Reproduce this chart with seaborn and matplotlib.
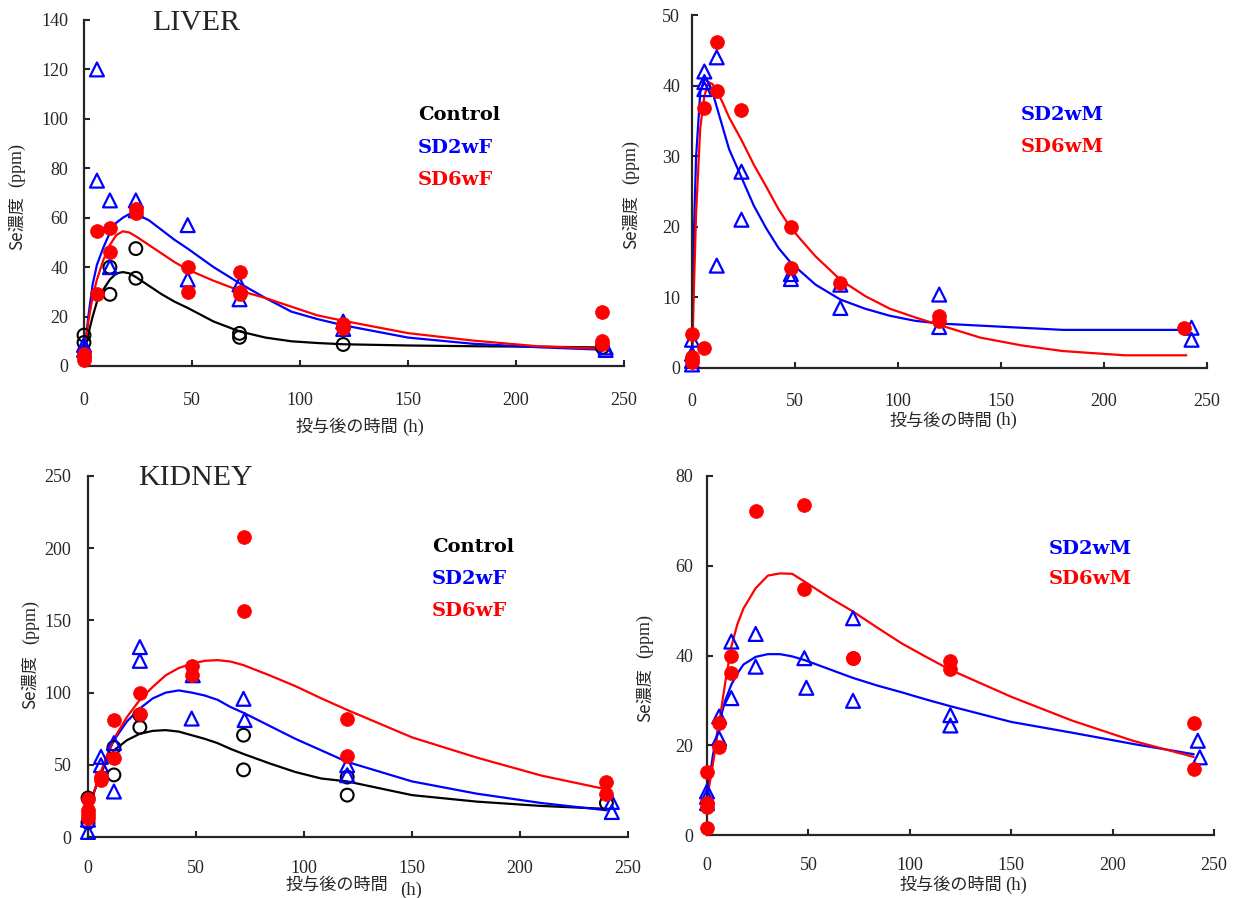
import matplotlib
matplotlib.use("Agg")
import matplotlib.pyplot as plt
import seaborn as sns

# ---------------- data ----------------
# LIVER, female
LF_ctrl_t = [0, 0, 12, 12, 24, 24, 72, 72, 120, 240]
LF_ctrl_y = [12.5, 9.5, 40, 29, 47.5, 35.5, 13.2, 11.6, 8.7, 7.5]
LF_sd2_t = [0, 0, 6, 6, 12, 12, 24, 24, 48, 48, 72, 72, 120, 120, 241.5, 241.5]
LF_sd2_y = [8.5, 6.5, 120, 75, 67, 40, 67, 63, 57, 35, 33, 27, 18, 15, 7.5, 6.5]
LF_sd6_t = [0, 0, 0, 6, 6, 12, 12, 24, 24, 48, 48, 72, 72, 72, 120, 120, 240, 240, 240]
LF_sd6_y = [5, 3.5, 2.5, 54.5, 29, 56, 46, 63.5, 62, 40, 30, 38, 30, 29, 17, 15.5, 22, 10, 9]

LF_fit_t = [0, 2, 4, 6, 9, 12, 15, 18, 21, 24, 30, 36, 42, 48, 60, 72, 84, 96, 108, 120, 150, 180, 210, 240]
LF_fit_ctrl = [5, 13, 20, 26, 31, 35, 37.5, 38, 37.5, 36, 32.5, 29, 26, 23.5, 18, 14, 11.5, 10, 9.3, 8.8, 8.3, 8, 7.8, 7.5]
LF_fit_sd2 = [4, 20, 33, 41, 48, 54, 58, 60, 61.5, 61.5, 59, 55, 51, 47.5, 40, 33.5, 27.5, 22, 19, 16.5, 11.5, 9, 7.6, 6.6]
LF_fit_sd6 = [4, 18, 28, 35, 43, 49, 53, 54.5, 54, 52.5, 49, 45.5, 42, 39, 34.5, 30.5, 27.5, 24, 20.5, 18.3, 13.3, 10.3, 8, 7]

# LIVER, male
LM_sd2_t = [0, 0, 0, 0, 6, 6, 6, 12, 12, 24, 24, 48, 48, 72, 72, 120, 120, 242.5, 242.5]
LM_sd2_y = [4, 2, 1, 0.5, 42, 40.5, 39.5, 44, 14.5, 27.8, 21, 13.3, 12.6, 11.8, 8.5, 10.4, 5.8, 5.7, 4]
LM_sd6_t = [0, 0, 0, 0, 6, 6, 12, 12, 24, 48, 48, 72, 120, 120, 239]
LM_sd6_y = [4.8, 1.5, 1.2, 0.8, 36.8, 2.8, 46.2, 39.3, 36.6, 20, 14.2, 12, 7.4, 6.6, 5.6]

LM_fit_t = [0, 1, 2, 4, 6, 8, 10, 12, 15, 18, 24, 30, 36, 42, 48, 60, 72, 84, 96, 108, 120, 140, 160, 180, 210, 240]
LM_fit_sd2 = [0.5, 20, 30, 39, 41, 40.5, 39, 37, 34, 31, 27, 23, 19.8, 17, 14.9, 11.8, 9.7, 8.4, 7.4, 6.7, 6.3, 6.0, 5.7, 5.4, 5.4, 5.4]
LM_fit_sd6 = [0.5, 12, 22, 34, 38.5, 40.5, 40.2, 39.3, 37.5, 35.5, 32.3, 28.8, 25.7, 22.5, 19.8, 15.8, 12.5, 10.2, 8.4, 7.2, 6.1, 4.3, 3.2, 2.4, 1.8, 1.8]

# KIDNEY, female
KF_ctrl_t = [0, 0, 12, 12, 24, 24, 72, 72, 120, 120, 240]
KF_ctrl_y = [27, 10, 62, 43, 84.5, 76, 70.5, 46.5, 41.5, 29, 23.5]
KF_sd2_t = [0, 0, 6, 6, 12, 12, 24, 24, 48.5, 48, 72, 72.5, 120, 120, 242.5, 242.5]
KF_sd2_y = [12, 3.5, 55.5, 49.7, 65, 31.5, 131.5, 122, 112, 82, 95.7, 81, 49.7, 42.8, 24.3, 17.3]
KF_sd6_t = [0, 0, 0, 0, 6, 6, 12, 12, 24, 24, 48, 48, 72, 72, 120, 120, 240, 240]
KF_sd6_y = [26, 18.5, 16, 13, 41.6, 39.3, 81.3, 55, 100, 85, 118.3, 112.5, 208, 156.5, 82, 56, 38, 30]

KF_fit_t = [0, 3, 6, 9, 12, 18, 24, 30, 36, 42, 48, 54, 60, 66, 72, 84, 96, 108, 120, 150, 180, 210, 240]
KF_fit_ctrl = [18, 32, 44, 54, 60, 67, 71.5, 73.5, 74, 73, 70.5, 68, 65, 61, 57.5, 51, 45, 40.5, 38.5, 29, 24.5, 21.5, 19.5]
KF_fit_sd2 = [18, 32, 45, 57, 67, 80, 89, 96, 100, 101.5, 100, 98, 95, 90, 86, 77, 68, 60, 52, 38.5, 30, 23.5, 18.5]
KF_fit_sd6 = [18, 32, 45, 57, 68, 83, 95, 104, 112, 117, 120, 122, 122.5, 121.5, 119, 112, 104.5, 96, 88, 69, 55, 42.5, 33]

# KIDNEY, male
KM_sd2_t = [0, 0, 0, 6, 6, 12, 12, 24, 24, 48, 49, 72, 72, 120, 120, 242, 243]
KM_sd2_y = [9.7, 8.5, 7.1, 26.4, 21.5, 43.1, 30.5, 44.8, 37.5, 39.4, 32.8, 48.3, 29.9, 26.7, 24.4, 21, 17.3]
KM_sd6_t = [0, 0, 0, 0, 6, 6, 12, 12, 24, 48, 48, 72, 72, 120, 120, 240, 240]
KM_sd6_y = [14.1, 7.1, 6.3, 1.6, 24.9, 19.5, 40, 36, 72.1, 73.6, 54.8, 39.5, 39.5, 38.8, 37.1, 24.9, 14.6]

KM_fit_t = [0, 3, 6, 9, 12, 15, 18, 24, 30, 36, 42, 48, 60, 72, 84, 96, 108, 120, 150, 180, 210, 240]
KM_fit_sd2 = [9, 18, 25, 30, 33.5, 36, 38, 39.7, 40.3, 40.3, 39.8, 39, 37, 35, 33.3, 31.8, 30.2, 28.7, 25.2, 22.8, 20.3, 18]
KM_fit_sd6 = [8, 16, 25, 34, 42, 47, 50.5, 55, 57.8, 58.3, 58.2, 56.5, 53, 49.8, 46.2, 42.7, 39.7, 36.8, 30.8, 25.5, 21, 17.4]

X_TICKS = [0, 50, 100, 150, 200, 250]
LF_Y_TICKS = [0, 20, 40, 60, 80, 100, 120, 140]
LM_Y_TICKS = [0, 10, 20, 30, 40, 50]
KF_Y_TICKS = [0, 50, 100, 150, 200, 250]
KM_Y_TICKS = [0, 20, 40, 60, 80]

YLABEL_JP = "Se濃度"
YLABEL_UNIT = "(ppm)"
XLABEL_JP = "投与後の時間"
XLABEL_UNIT = "(h)"

# ---------------- styling ----------------
sns.set_style("ticks")
plt.rcParams["font.family"] = ["Liberation Serif", "DejaVu Serif"]

W, H = 1236, 898
fig = plt.figure(figsize=(W / 100, H / 100), dpi=100)


def fx(px):
    return px / W


def fy(py):
    return 1 - py / H


def make_ax(left, right, top, bottom):
    return fig.add_axes([fx(left), fy(bottom), fx(right - left), (bottom - top) / H])


BLUE = "#0000FF"
RED = "#FF0000"
BLACK = "#000000"


def style_ax(ax, yticks, ymax, ypad, xpad):
    ax.set_xlim(0, 250)
    ax.set_ylim(0, ymax)
    ax.set_xticks(X_TICKS)
    ax.set_yticks(yticks)
    sns.despine(ax=ax)
    for s in ("left", "bottom"):
        ax.spines[s].set_linewidth(1.6)
    ax.tick_params(axis="both", direction="in", length=4.5, width=1.5, labelsize=13)
    ax.tick_params(axis="y", pad=ypad)
    ax.tick_params(axis="x", pad=xpad)
    ax.set_xlabel("")
    ax.set_ylabel("")


def curves(ax, t, series):
    for y, c in series:
        sns.lineplot(x=t, y=y, ax=ax, color=c, linewidth=1.6, estimator=None, zorder=2)


def open_circles(ax, t, y):
    sns.scatterplot(x=t, y=y, ax=ax, marker="o", s=85, color="none", edgecolor=BLACK,
                    linewidth=1.5, clip_on=False, zorder=3)


def open_triangles(ax, t, y):
    sns.scatterplot(x=t, y=y, ax=ax, marker="^", s=100, color="none", edgecolor=BLUE,
                    linewidth=1.6, clip_on=False, zorder=3)


def red_dots(ax, t, y):
    sns.scatterplot(x=t, y=y, ax=ax, marker="o", s=100, color=RED, edgecolor=RED,
                    linewidth=0.5, clip_on=False, zorder=4)


LEG = dict(family=["DejaVu Serif"], fontsize=14, fontweight="bold", va="center", ha="left")
TITLE = dict(family=["Liberation Serif"], fontsize=21.5, va="center", ha="center")
JP = ["Noto Sans CJK JP", "DejaVu Sans"]
SERIF = ["Liberation Serif", "DejaVu Serif"]


def ylabel(x, y_jp, y_unit):
    fig.text(fx(x), fy(y_jp), YLABEL_JP, rotation=90, family=JP, fontsize=12.3,
             ha="center", va="center")
    fig.text(fx(x), fy(y_unit), YLABEL_UNIT, rotation=90, family=SERIF, fontsize=13,
             ha="center", va="center")


def xlabel(x_right, y_jp, x_unit, y_unit):
    fig.text(fx(x_right), fy(y_jp), XLABEL_JP, family=JP, fontsize=12.3, ha="right", va="center")
    fig.text(fx(x_unit), fy(y_unit), XLABEL_UNIT, family=SERIF, fontsize=13.5,
             ha="left", va="center")


# ---------------- panel 1: LIVER female ----------------
ax1 = make_ax(84, 624, 20, 366)
curves(ax1, LF_fit_t, [(LF_fit_ctrl, BLACK), (LF_fit_sd2, BLUE), (LF_fit_sd6, RED)])
open_circles(ax1, LF_ctrl_t, LF_ctrl_y)
open_triangles(ax1, LF_sd2_t, LF_sd2_y)
red_dots(ax1, LF_sd6_t, LF_sd6_y)
style_ax(ax1, LF_Y_TICKS, 140, 11.5, 19)
fig.text(fx(196), fy(23), "LIVER", **TITLE)
fig.text(fx(418), fy(115), "Control", color=BLACK, **LEG)
fig.text(fx(418), fy(148), "SD2wF", color=BLUE, **LEG)
fig.text(fx(418), fy(180), "SD6wF", color=RED, **LEG)
ylabel(16.5, 223, 165)
xlabel(398, 427, 402, 427)

# ---------------- panel 2: LIVER male ----------------
ax2 = make_ax(692, 1207, 15, 368)
curves(ax2, LM_fit_t, [(LM_fit_sd2, BLUE), (LM_fit_sd6, RED)])
open_triangles(ax2, LM_sd2_t, LM_sd2_y)
red_dots(ax2, LM_sd6_t, LM_sd6_y)
style_ax(ax2, LM_Y_TICKS, 50, 8.5, 18)
fig.text(fx(1021), fy(115.5), "SD2wM", color=BLUE, **LEG)
fig.text(fx(1021), fy(147.5), "SD6wM", color=RED, **LEG)
ylabel(631, 222, 162)
xlabel(992, 420.5, 995, 420.5)

# ---------------- panel 3: KIDNEY female ----------------
ax3 = make_ax(88, 628, 476, 837)
curves(ax3, KF_fit_t, [(KF_fit_ctrl, BLACK), (KF_fit_sd2, BLUE), (KF_fit_sd6, RED)])
open_circles(ax3, KF_ctrl_t, KF_ctrl_y)
open_triangles(ax3, KF_sd2_t, KF_sd2_y)
red_dots(ax3, KF_sd6_t, KF_sd6_y)
style_ax(ax3, KF_Y_TICKS, 250, 12, 16.5)
fig.text(fx(195), fy(478), "KIDNEY", **TITLE)
fig.text(fx(432), fy(547.5), "Control", color=BLACK, **LEG)
fig.text(fx(432), fy(579.5), "SD2wF", color=BLUE, **LEG)
fig.text(fx(432), fy(610.5), "SD6wF", color=RED, **LEG)
ylabel(30.5, 682, 622)
xlabel(388, 885, 400, 890)

# ---------------- panel 4: KIDNEY male ----------------
ax4 = make_ax(707, 1214, 476, 835)
curves(ax4, KM_fit_t, [(KM_fit_sd2, BLUE), (KM_fit_sd6, RED)])
open_triangles(ax4, KM_sd2_t, KM_sd2_y)
red_dots(ax4, KM_sd6_t, KM_sd6_y)
style_ax(ax4, KM_Y_TICKS, 80, 10, 16)
fig.text(fx(1049), fy(549.5), "SD2wM", color=BLUE, **LEG)
fig.text(fx(1049), fy(579.5), "SD6wM", color=RED, **LEG)
ylabel(645, 695, 636)
xlabel(1002, 885, 1005, 885)

fig.savefig("out.png", dpi=100)
